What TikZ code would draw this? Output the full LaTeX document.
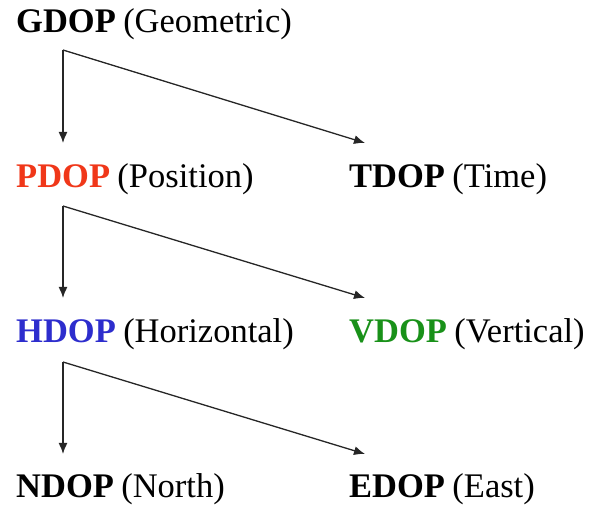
\documentclass[tikz,border=0pt]{standalone}
\usepackage{fontspec}
\setmainfont{Liberation Serif}
\usetikzlibrary{arrows.meta}
\definecolor{pdopred}{RGB}{240,55,25}
\definecolor{hdopblue}{RGB}{45,45,205}
\definecolor{vdopgreen}{RGB}{25,145,25}

\begin{document}
\begin{tikzpicture}[x=1pt, y=1pt,
    every node/.style={inner sep=0pt, anchor=base west, font=\fontsize{34.5}{40}\selectfont},
    link/.style={-{Latex[length=11pt,width=9pt]}, line width=1.3pt, color=black!85}]
    \useasboundingbox (0, 0) rectangle (594, -510);
    \node (GDOP) at (16, -33) {\bfseries GDOP};
    \node (GDOP Text) at ([xshift=7pt]GDOP.base east) {(Geometric)};
    \node (PDOP) at (16, -188) {\bfseries\color{pdopred} PDOP};
    \node (PDOP Text) at ([xshift=7pt]PDOP.base east) {(Position)};
    \node (TDOP) at (349, -188) {\bfseries TDOP};
    \node (TDOP Text) at ([xshift=7pt]TDOP.base east) {(Time)};
    \node (HDOP) at (16, -343) {\bfseries\color{hdopblue} HDOP};
    \node (HDOP Text) at ([xshift=7pt]HDOP.base east) {(Horizontal)};
    \node (VDOP) at (349, -343) {\bfseries\color{vdopgreen} VDOP};
    \node (VDOP Text) at ([xshift=7pt]VDOP.base east) {(Vertical)};
    \node (NDOP) at (16, -497) {\bfseries NDOP};
    \node (NDOP Text) at ([xshift=7pt]NDOP.base east) {(North)};
    \node (EDOP) at (349, -497) {\bfseries EDOP};
    \node (EDOP Text) at ([xshift=7pt]EDOP.base east) {(East)};
    % forks under the parent labels
    \coordinate (GDOP Fork) at (63, -50);
    \coordinate (PDOP Fork) at (63, -206);
    \coordinate (HDOP Fork) at (63, -362);
    \draw[link, shorten >=22pt] (GDOP Fork) -- (GDOP Fork |- PDOP.north);
    \draw[link] (GDOP Fork) -- ([xshift=16pt, yshift=22pt]TDOP.north west);
    \draw[link, shorten >=22pt] (PDOP Fork) -- (PDOP Fork |- HDOP.north);
    \draw[link] (PDOP Fork) -- ([xshift=16pt, yshift=22pt]VDOP.north west);
    \draw[link, shorten >=20pt] (HDOP Fork) -- (HDOP Fork |- NDOP.north);
    \draw[link] (HDOP Fork) -- ([xshift=16pt, yshift=20pt]EDOP.north west);
\end{tikzpicture}
\end{document}
